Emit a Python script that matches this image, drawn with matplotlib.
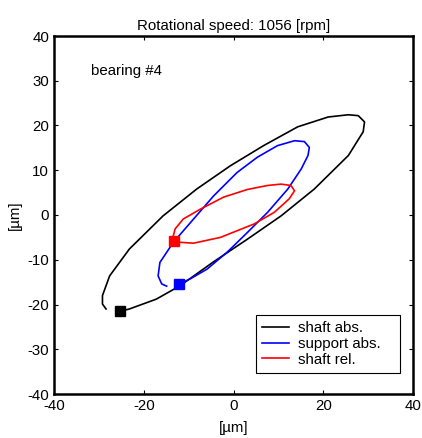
import matplotlib
matplotlib.use('Agg')
import matplotlib.pyplot as plt
import numpy as np

plt.rcParams['font.family'] = ['Liberation Sans', 'DejaVu Sans']
plt.rcParams['font.size'] = 10.8
plt.rcParams['axes.unicode_minus'] = False

# orbit traces, [um]
shaft_abs_x = [-25.2, -23.2, -17.2, -11.9, -4.5, 3.1, 10.6, 18.0, 25.6, 28.9, 29.2,
               27.8, 25.6, 21.1, 14.3, 6.7, -0.7, -8.2, -15.7, -23.2, -27.6, -29.2,
               -29.2, -28.4]
shaft_abs_y = [-21.5, -21.0, -18.8, -15.8, -10.5, -5.4, -0.2, 5.8, 13.3, 18.6, 20.8,
               22.2, 22.4, 21.9, 19.7, 15.5, 11.0, 5.8, -0.2, -7.6, -13.6, -18.0,
               -19.9, -21.0]

support_abs_x = [-12.1, -9.7, -5.9, -1.4, 3.1, 7.6, 12.1, 15.1, 16.6, 16.9, 15.8,
                 13.6, 9.8, 5.3, 0.8, -4.4, -8.9, -13.4, -16.4, -16.8, -16.0, -14.9]
support_abs_y = [-15.4, -14.3, -12.1, -8.3, -3.9, 0.6, 5.8, 10.3, 13.3, 15.1, 16.4,
                 16.6, 15.5, 12.9, 9.5, 4.3, -0.9, -6.1, -10.6, -13.6, -15.4, -15.9]

shaft_rel_x = [-13.2, -11.9, -8.9, -2.9, 4.6, 9.1, 12.4, 13.6, 12.8, 10.6, 7.6,
               3.1, -2.2, -7.4, -11.2, -13.0, -13.4]
shaft_rel_y = [-5.7, -6.1, -6.3, -5.0, -2.0, 0.6, 3.6, 5.4, 6.6, 6.9, 6.6,
               5.7, 4.0, 1.3, -0.9, -3.1, -4.6]

labels = ['shaft abs.', 'support abs.', 'shaft rel.']
colors = ['black', 'blue', 'red']

fig = plt.figure(figsize=(4.22, 4.38), dpi=100)
ax = fig.add_axes([54 / 422, 1 - 394 / 438, 359 / 422, 358 / 438])

traces = [(shaft_abs_x, shaft_abs_y), (support_abs_x, support_abs_y),
          (shaft_rel_x, shaft_rel_y)]
for (xs, ys), lab, c in zip(traces, labels, colors):
    ax.plot(xs, ys, color=c, lw=1.2, label=lab)
    ax.plot(xs[0], ys[0], 's', color=c, ms=7)

ax.set_xlim(-40, 40)
ax.set_ylim(-40, 40)
ax.set_xticks([-40, -20, 0, 20, 40])
ax.set_yticks(np.arange(-40, 41, 10))
ax.tick_params(direction='in', length=3, width=0.8, top=True, right=True, pad=3.5)
for s in ax.spines.values():
    s.set_linewidth(1.8)

ax.set_title('Rotational speed: 1056 [rpm]', fontsize=10.8, pad=4)
ax.set_xlabel('[µm]', labelpad=6)
ax.set_ylabel('[µm]', labelpad=4)
ax.text(-31.7, 32.2, 'bearing #4', va='center', ha='left')

leg = ax.legend(loc='upper left', bbox_to_anchor=(0.5627, 0.0, 0.401, 0.2207),
                mode='expand', fancybox=False, edgecolor='black', framealpha=1,
                handlelength=1.8, handletextpad=0.6, labelspacing=0.12,
                borderpad=0.4, borderaxespad=0)
leg.get_frame().set_linewidth(0.8)

fig.savefig('out.png', dpi=100)
